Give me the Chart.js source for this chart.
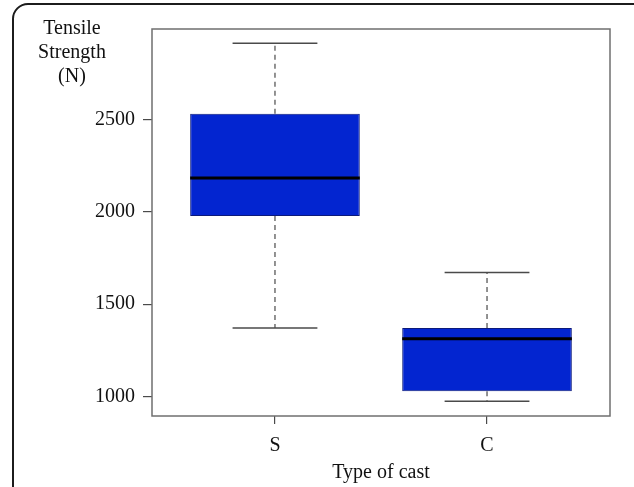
<!DOCTYPE html>
<html>
<head>
<meta charset="utf-8">
<script src="https://cdn.jsdelivr.net/npm/chart.js@4.4.1/dist/chart.umd.min.js"></script>
<style>
  html, body { margin: 0; padding: 0; background: #fff; overflow: hidden; }
  #wrap { position: relative; width: 634px; height: 487px; }
  #frame {
    position: absolute; left: 12px; top: 3px; width: 660px; height: 600px;
    border: 2px solid #1c1c1c; border-radius: 16px; box-sizing: border-box;
    pointer-events: none;
  }
  canvas { position: absolute; left: 0; top: 0; }
</style>
</head>
<body>
<div id="wrap">
  <canvas id="myChart" width="634" height="487"></canvas>
  <div id="frame"></div>
</div>
<script>
// data
const categories = ['S', 'C'];
const positions = [1, 2];
const lowerWhisker = [1371, 973];
const q1 = [1978, 1027];
const median = [2185, 1312];
const q3 = [2533, 1371];
const upperWhisker = [2915, 1672];
const yTicks = [1000, 1500, 2000, 2500];
const yTitle = ['Tensile', 'Strength', '(N)'];
const xTitle = 'Type of cast';

const FONT = 'Liberation Serif';
const FSIZE = 20;
const TEXT = '#111';
const LINE = '#4a4a4a';

function line(ctx, x1, y1, x2, y2) {
    ctx.beginPath();
    ctx.moveTo(x1, y1);
    ctx.lineTo(x2, y2);
    ctx.stroke();
}

const boxExtras = {
    id: 'boxExtras',
    beforeDatasetsDraw(chart) {
        const { ctx, chartArea } = chart;
        ctx.save();
        ctx.strokeStyle = '#6f6f6f';
        ctx.lineWidth = 1.5;
        ctx.strokeRect(chartArea.left, chartArea.top, chartArea.right - chartArea.left, chartArea.bottom - chartArea.top);
        ctx.restore();
    },
    afterDatasetsDraw(chart) {
        const ctx = chart.ctx;
        const xs = chart.scales.x;
        const ys = chart.scales.y;
        const meta = chart.getDatasetMeta(0);
        ctx.save();
        categories.forEach((c, i) => {
            const x = xs.getPixelForValue(positions[i]);
            const half = meta.data[i].width / 2;
            const capHalf = half / 2;

            ctx.strokeStyle = LINE;
            ctx.lineWidth = 1.2;
            ctx.setLineDash([5, 4]);
            line(ctx, x, ys.getPixelForValue(q3[i]), x, ys.getPixelForValue(upperWhisker[i]));
            line(ctx, x, ys.getPixelForValue(q1[i]), x, ys.getPixelForValue(lowerWhisker[i]));
            ctx.setLineDash([]);

            ctx.lineWidth = 1.5;
            const yu = ys.getPixelForValue(upperWhisker[i]);
            const yl = ys.getPixelForValue(lowerWhisker[i]);
            line(ctx, x - capHalf, yu, x + capHalf, yu);
            line(ctx, x - capHalf, yl, x + capHalf, yl);

            ctx.strokeStyle = '#000';
            ctx.lineWidth = 3;
            const ym = ys.getPixelForValue(median[i]);
            line(ctx, x - half, ym, x + half, ym);
        });
        ctx.restore();
    },
    afterDraw(chart) {
        const ctx = chart.ctx;
        ctx.save();
        ctx.fillStyle = TEXT;
        ctx.font = FSIZE + 'px "' + FONT + '"';
        ctx.textAlign = 'center';
        ctx.textBaseline = 'middle';
        yTitle.forEach((t, i) => ctx.fillText(t, 72, 29 + i * 23.8));
        ctx.restore();
    }
};

const ctx = document.getElementById('myChart');

new Chart(ctx, {
    type: 'bar',
    data: {
        datasets: [{
            data: positions.map((p, i) => ({ x: p, y: [q1[i], q3[i]] })),
            backgroundColor: '#0325d0',
            borderColor: '#0c1a7a',
            borderWidth: 1,
            borderSkipped: false,
            categoryPercentage: 1,
            barPercentage: 0.8
        }]
    },
    options: {
        responsive: false,
        animation: false,
        layout: { padding: { left: 0, top: 29, right: 24, bottom: 0 } },
        plugins: { legend: { display: false }, tooltip: { enabled: false } },
        scales: {
            x: {
                type: 'linear',
                min: 0.42,
                max: 2.58,
                offset: false,
                afterBuildTicks: (scale) => { scale.ticks = positions.map(v => ({ value: v })); },
                afterFit: (scale) => { scale.height = 71; },
                ticks: {
                    callback: (v) => categories[positions.indexOf(v)],
                    font: { family: FONT, size: FSIZE },
                    color: TEXT,
                    padding: 10,
                    maxRotation: 0
                },
                grid: { offset: false, drawOnChartArea: false, drawTicks: true, tickLength: 8, color: LINE, lineWidth: 1.2 },
                border: { display: false },
                title: {
                    display: true,
                    text: xTitle,
                    font: { family: FONT, size: FSIZE },
                    color: TEXT,
                    padding: { top: 0, bottom: 2 }
                }
            },
            y: {
                min: 893,
                max: 2993,
                afterBuildTicks: (scale) => { scale.ticks = yTicks.map(v => ({ value: v })); },
                afterFit: (scale) => { scale.width = 152; },
                ticks: {
                    callback: (v) => String(v),
                    font: { family: FONT, size: FSIZE },
                    color: TEXT,
                    padding: 8
                },
                grid: { drawOnChartArea: false, drawTicks: true, tickLength: 9, color: LINE, lineWidth: 1.2 },
                border: { display: false }
            }
        }
    },
    plugins: [boxExtras]
});
</script>
</body>
</html>
